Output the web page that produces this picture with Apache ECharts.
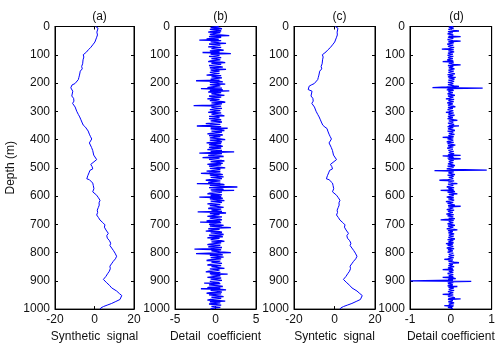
<!DOCTYPE html>
<html>
<head>
<meta charset="utf-8">
<script src="https://cdn.jsdelivr.net/npm/echarts@6/dist/echarts.min.js"></script>
<style>
  html, body { margin: 0; padding: 0; background: #fff; }
  #chart { width: 498px; height: 348px; }
</style>
</head>
<body>
<div id="chart"></div>
<script>
// depth samples (m) of the synthetic signal
const sigDepth = [
  0, 6, 12, 20, 30, 40, 47, 55, 65, 75, 82, 90, 100, 108, 112, 118, 123, 132, 141, 150,
  158, 164, 172, 180, 188, 195, 202, 207, 211, 217, 223, 229, 236, 246, 254, 264, 272, 279, 285, 291,
  300, 311, 320, 328, 338, 349, 356, 361, 370, 381, 390, 398, 405, 412, 419, 428, 439, 446, 455, 462,
  471, 478, 488, 496, 504, 509, 518, 528, 539, 542, 548, 554, 563, 574, 585, 597, 606, 615, 624, 632,
  641, 650, 658, 667, 676, 685, 694, 702, 710, 720, 726, 732, 740, 749, 758, 767, 775, 784, 793, 802,
  813, 822, 831, 840, 848, 857, 866, 875, 884, 895, 901, 907, 916, 925, 936, 945, 952, 959, 966, 973,
  980, 986, 991, 996, 1000
]
// (a) synthetic signal
const sigA = [
  0.6, 1.8, 2.1, 1.2, 1.5, 1.0, 1.1, 0.2, -0.9, -2.0, -3.1, -4.0, -5.7, -5.4, -6.3, -5.8, -5.2, -6.0, -6.5, -6.2,
  -7.2, -7.0, -7.6, -7.9, -8.2, -9.0, -9.9, -11.4, -12.4, -12.0, -12.9, -11.0, -11.8, -11.5, -10.6, -10.4, -11.1, -10.7, -9.8, -9.4,
  -9.0, -8.2, -7.5, -7.0, -6.4, -5.7, -4.6, -3.6, -3.2, -2.6, -2.0, -1.4, -1.9, -2.6, -2.3, -1.5, -0.9, -1.3, -0.4, -0.1,
  1.1, 0.3, -1.9, -1.2, -0.9, -2.3, -2.8, -3.4, -3.9, -2.6, -1.8, -0.9, -0.6, -0.3, -0.9, 1.1, 2.0, 2.8, 2.3, 2.4,
  1.9, 1.4, 1.6, 1.1, 2.0, 2.8, 4.2, 5.3, 5.0, 5.8, 6.6, 7.0, 6.2, 6.5, 7.6, 8.2, 7.8, 8.7, 9.6, 10.4,
  11.2, 10.6, 9.5, 8.6, 7.8, 8.0, 7.5, 6.6, 5.8, 4.5, 5.4, 6.2, 7.6, 8.7, 11.2, 12.6, 13.8, 13.6, 12.9, 10.8,
  8.7, 6.4, 4.5, 3.2, 2.8
]
// (c) reconstructed ("syntetic") signal
const sigC = [
  0.4, 1.7, 2.0, 1.3, 1.4, 0.9, 1.0, 0.1, -1.0, -2.1, -3.2, -4.2, -6.0, -5.6, -6.5, -5.9, -5.3, -6.1, -6.6, -6.3,
  -7.3, -7.0, -7.7, -8.0, -8.3, -9.1, -10.0, -11.5, -12.5, -12.0, -13.0, -11.1, -11.9, -11.6, -10.7, -10.5, -11.2, -10.8, -9.9, -9.5,
  -9.1, -8.3, -7.6, -7.1, -6.5, -5.8, -4.7, -3.7, -3.3, -2.7, -2.1, -1.5, -2.0, -2.7, -2.4, -1.6, -1.0, -1.4, -0.5, -0.2,
  1.0, 0.2, -2.0, -1.3, -1.0, -2.4, -2.9, -3.5, -4.0, -2.7, -1.9, -1.0, -0.7, -0.4, -1.0, 1.0, 1.9, 2.7, 2.2, 2.3,
  1.8, 1.3, 1.5, 1.0, 1.9, 2.7, 4.1, 5.2, 4.9, 5.7, 6.5, 6.9, 6.1, 6.4, 7.5, 8.1, 7.7, 8.6, 9.5, 10.3,
  11.1, 10.5, 9.4, 8.5, 7.7, 7.9, 7.4, 6.5, 5.7, 4.4, 5.3, 6.1, 7.5, 8.6, 11.1, 12.5, 13.7, 13.5, 12.8, 10.7,
  8.6, 6.3, 4.4, 3.1, 2.7
]

// detail coefficients, one sample every DEPTH_STEP metres (20 per row = 40 m)
const DEPTH_STEP = 2
const detB = [
  0.4, -0.3, -0.6, 0.5, 0.8, -0.7, -0.5, 0.4, 0.7, -0.6, -0.9, 0.6, 0.5, -0.4, -0.7, 0.6, 1.7, -0.5, -0.8, 0.7,
  0.6, -0.5, -1.1, 0.4, -2.0, 0.7, 0.9, -0.6, -0.6, 0.5, 1.3, -0.8, -0.7, 0.6, 0.5, -0.4, -0.9, 0.7, 0.8, -0.5,
  -0.5, 0.6, 1.0, -0.7, -0.8, 0.5, -1.6, 0.8, 1.9, -0.6, -0.7, 0.5, 0.6, -0.8, -1.0, 0.7, 0.8, -0.5, -0.4, 0.6,
  0.7, -0.6, -0.9, 0.8, 1.2, -0.5, -0.6, 0.7, 0.5, -0.8, -1.0, 0.6, 0.9, -0.7, -0.5, 0.4, 1.3, -0.6, -0.7, 0.5,
  0.6, -0.7, -0.8, 0.5, 0.5, -0.6, -1.1, 0.7, 0.8, -0.5, -0.6, 0.8, 1.0, -0.6, -0.7, 0.5, -2.4, 0.6, 0.9, -0.7,
  -0.6, 0.5, 1.2, -0.7, -0.8, 0.6, 0.7, -0.5, -1.0, 0.8, -1.8, 0.6, 0.9, -0.7, 1.7, -0.6, -0.9, 0.7, 0.6, -0.5,
  -0.7, 0.6, 1.1, -0.8, -0.5, 0.7, 0.8, -0.6, -1.0, 0.5, 0.6, -0.7, -0.8, 0.9, 1.2, -0.5, -0.6, 0.8, 0.7, -0.6,
  -2.7, 0.7, 0.9, -0.5, -0.6, 0.8, 1.0, -0.7, -0.8, 0.6, 0.5, -0.6, -0.9, 0.7, 0.8, -0.5, -0.6, 0.7, 1.1, -0.8,
  -0.7, 0.5, 0.6, -0.8, -1.0, 0.7, 0.9, -0.6, -0.5, 0.8, 0.7, -0.5, -1.2, 0.6, 0.8, -0.7, -2.3, 0.7, 0.6, -0.6,
  1.5, -0.6, -0.8, 0.7, 1.1, -0.5, -0.6, 0.8, 0.7, -0.6, -1.0, 0.5, 0.9, -0.8, -0.7, 0.6, 0.5, -0.7, -0.9, 0.6,
  1.2, -0.7, -0.6, 0.5, 0.8, -0.6, -1.1, 0.7, 0.7, -0.8, -0.5, 0.6, 0.9, -0.5, -0.8, 0.7, 0.6, -0.6, -1.0, 0.8,
  0.8, -0.6, 2.3, -0.7, -2.0, 0.8, 0.7, -0.5, -0.9, 0.6, 1.0, -0.7, -1.6, 0.5, 0.6, -0.8, -0.8, 0.7, 1.1, -0.6,
  -0.7, 0.5, 0.9, -0.6, -1.0, 0.7, 0.6, -0.8, -0.8, 0.5, 1.2, -0.7, -0.6, 0.6, 0.8, -0.5, -1.1, 0.6, 0.7, -0.8,
  -1.8, 0.6, 0.9, -0.7, -0.7, 0.5, 1.0, -0.6, -0.6, 0.8, 0.8, -0.7, -1.2, 0.6, 0.7, -0.5, -0.9, 0.6, -2.3, 0.8,
  1.1, -0.7, -0.8, 0.6, 2.7, -0.8, -0.9, 0.7, 1.0, -0.6, 2.3, -0.5, -0.7, 0.8, 0.6, -0.7, -1.0, 0.5, 0.8, -0.6,
  -0.6, 0.7, -2.0, 0.6, 0.9, -0.7, -0.8, 0.5, 1.1, -0.6, -0.6, 0.8, 0.7, -0.5, -1.0, 0.6, 0.8, -0.7, -0.5, 0.6,
  1.0, -0.6, -0.9, 0.7, 0.6, -0.5, -0.7, 0.8, -2.2, 0.6, 1.3, -0.7, -0.8, 0.5, 0.7, -0.6, -1.0, 0.8, 0.9, -0.7,
  -0.6, 0.5, 0.8, -0.7, -1.1, 0.6, -1.9, 0.7, 0.7, -0.5, -0.8, 0.6, 1.0, -0.7, -0.6, 0.8, 1.9, -0.6, -0.9, 0.5,
  0.6, -0.7, -1.2, 0.5, 0.8, -0.6, -0.7, 0.7, 1.0, -0.8, -0.5, 0.6, 0.9, -0.7, -1.0, 0.5, 0.7, -0.6, -0.8, 0.7,
  1.1, -0.5, -0.6, 0.7, 0.8, -0.7, -1.0, 0.6, 0.7, -0.5, -0.9, 0.8, 1.0, -0.6, -2.6, 0.7, 0.8, -0.5, -0.7, 0.6,
  1.9, -0.8, -2.4, 0.6, 0.9, -0.7, -0.6, 0.5, 1.0, -0.6, -0.8, 0.7, 0.7, -0.8, -1.1, 0.6, 0.6, -0.5, -0.7, 0.8,
  0.9, -0.6, -1.0, 0.7, 0.8, -0.5, -0.6, 0.6, 1.1, -0.7, -0.9, 0.5, 0.7, -0.8, -1.2, 0.6, 0.6, -0.7, 1.5, -0.6,
  -0.8, 0.6, 0.7, -0.5, -1.0, 0.7, 0.9, -0.6, -0.6, 0.8, 1.0, -0.7, -0.8, 0.5, -1.4, 0.6, 0.7, -0.8, -0.6, 0.5,
  0.9, -0.7, -1.0, 0.6, -1.8, 0.8, 1.3, -0.6, -0.7, 0.5, 0.8, -0.6, -1.1, 0.7, 0.6, -0.8, -0.9, 0.6, 1.0, -0.5,
  -0.6, 0.7, 0.8, -0.6, -1.0, 0.5, 1.2, -0.7, -0.7, 0.6, 0.6, -0.8, -1.0, 0.7, 0.9, -0.5, -0.5, 0.6, 0.7, -0.6,
  -0.4
]
const detD = [
  0.06, -0.05, -0.08, 0.07, 0.1, -0.06, -0.05, 0.08, 0.2, -0.07, -0.09, 0.05, 0.07, -0.08, -0.1, 0.06, 0.08, -0.05, 0.24, -0.07,
  -0.07, 0.06, 0.09, -0.08, -0.12, 0.05, 0.24, -0.06, -0.06, 0.07, 0.1, -0.09, -0.08, 0.06, 0.05, -0.07, -0.1, 0.08, 0.08, -0.05,
  -0.22, 0.07, 0.1, -0.06, -0.06, 0.08, 0.09, -0.07, -0.11, 0.05, 0.07, -0.08, -0.05, 0.06, 0.1, -0.07, -0.08, 0.05, 0.06, -0.09,
  -0.09, 0.06, -0.2, 0.07, 0.08, -0.05, -0.06, 0.08, 0.24, -0.07, -0.1, 0.06, 0.07, -0.05, -0.08, 0.09, 0.12, -0.06, -0.05, 0.07,
  0.09, -0.06, -0.07, 0.05, 0.1, -0.08, -0.12, 0.06, 0.06, -0.07, 0.12, -0.05, -0.08, 0.09, 0.07, -0.06, -0.1, 0.08, 0.05, -0.07,
  -0.09, 0.06, 0.1, -0.07, -0.06, 0.08, 0.2, -0.1, -0.45, 0.78, -0.08, 0.06, -0.1, 0.07, 0.08, -0.06, -0.07, 0.05, 0.09, -0.08,
  -0.06, 0.05, 0.1, -0.07, -0.08, 0.06, 0.07, -0.05, -0.12, 0.08, 0.09, -0.06, -0.05, 0.07, 0.08, -0.09, -0.1, 0.05, 0.06, -0.07,
  -0.08, 0.06, 0.11, -0.07, -0.06, 0.05, 0.09, -0.08, -0.1, 0.06, 0.07, -0.05, -0.12, 0.07, 0.08, -0.06, -0.05, 0.09, 0.1, -0.07,
  -0.07, 0.05, 0.06, -0.08, -0.09, 0.07, 0.16, -0.05, -0.08, 0.06, 0.1, -0.07, -0.06, 0.08, 0.07, -0.05, 0.2, -0.08, -0.1, 0.06,
  0.08, -0.07, -0.06, 0.05, 0.1, -0.08, -0.12, 0.06, 0.07, -0.05, -0.08, 0.09, 0.09, -0.06, -0.05, 0.07, -0.2, 0.06, 0.1, -0.08,
  -0.07, 0.06, 0.08, -0.05, -0.1, 0.07, 0.06, -0.08, -0.09, 0.05, 0.11, -0.07, -0.06, 0.06, 0.08, -0.09, -0.1, 0.05, 0.07, -0.06,
  -0.08, 0.07, 0.1, -0.05, -0.06, 0.08, 0.09, -0.07, 0.24, -0.2, 0.06, -0.05, 0.07, -0.08, 0.24, -0.06, -0.1, 0.07, 0.06, -0.05,
  -0.09, 0.06, 0.08, -0.07, -0.07, 0.05, 0.1, -0.08, -0.06, 0.07, 0.09, -0.05, -0.1, 0.06, 0.88, -0.4, -0.08, 0.07, 0.08, -0.06,
  -0.07, 0.05, 0.1, -0.08, -0.12, 0.07, 0.06, -0.05, -0.08, 0.06, 0.09, -0.07, -0.28, 0.08, 0.07, -0.06, -0.06, 0.05, 0.16, -0.07,
  -0.09, 0.06, 0.07, -0.05, -0.1, 0.08, 0.08, -0.06, -0.06, 0.07, -0.25, 0.05, 0.1, -0.08, -0.07, 0.06, 0.16, -0.05, -0.08, 0.07,
  0.06, -0.05, -0.1, 0.07, 0.09, -0.06, -0.07, 0.08, 0.08, -0.05, -0.12, 0.06, 0.07, -0.08, -0.06, 0.05, 0.1, -0.07, 0.24, -0.06,
  -0.08, 0.06, 0.07, -0.05, -0.1, 0.08, 0.09, -0.07, -0.06, 0.05, 0.08, -0.06, -0.11, 0.07, 0.07, -0.08, -0.09, 0.06, 0.06, -0.05,
  0.1, -0.06, -0.25, 0.07, 0.08, -0.05, -0.07, 0.06, 0.09, -0.08, -0.06, 0.05, 0.1, -0.07, -0.08, 0.06, 0.07, -0.05, -0.1, 0.08,
  0.16, -0.07, -0.08, 0.05, 0.07, -0.06, -0.1, 0.08, 0.06, -0.05, -0.09, 0.07, 0.08, -0.06, -0.06, 0.05, 0.1, -0.08, -0.07, 0.06,
  0.08, -0.06, -0.1, 0.07, -0.12, 0.05, 0.09, -0.08, -0.06, 0.06, 0.07, -0.05, -0.1, 0.08, 0.08, -0.07, -0.07, 0.05, 0.06, -0.08,
  -0.09, 0.06, 0.1, -0.05, -0.07, 0.08, 0.08, -0.06, -0.1, 0.07, 0.06, -0.08, -0.16, 0.05, 0.09, -0.06, -0.07, 0.08, 0.2, -0.05,
  -0.08, 0.05, 0.07, -0.06, -0.1, 0.08, 0.09, -0.07, -0.06, 0.05, -0.2, 0.07, 0.08, -0.05, -0.07, 0.06, 0.1, -0.08, -0.09, 0.06,
  0.07, -0.05, -0.08, 0.06, -0.2, 0.07, 0.12, -0.06, -0.1, 0.05, -0.99, 0.5, -0.08, 0.06, 0.09, -0.07, -0.07, 0.05, 0.06, -0.08,
  0.16, -0.06, -0.1, 0.07, 0.08, -0.05, -0.06, 0.08, 0.09, -0.07, -0.1, 0.06, 0.07, -0.05, -0.2, 0.06, 0.08, -0.07, -0.07, 0.05,
  0.1, -0.06, 0.24, -0.07, -0.08, 0.05, 0.07, -0.06, -0.1, 0.08, 0.09, -0.05, -0.06, 0.07, -0.16, 0.06, 0.08, -0.07, -0.07, 0.05,
  0.05
]

const panelTitles = ['(a)', '(b)', '(c)', '(d)']
const xNames = ['Synthetic  signal', 'Detail  coefficient', 'Syntetic  signal', 'Detail coefficient']
const xRanges = [[-20, 20, 20], [-5, 5, 5], [-20, 20, 20], [-1, 1, 1]]

const FONT = 'Liberation Sans, Arial, sans-serif'
const TXT = '#111'
const grids = [
  { left: 55, width: 79 },
  { left: 175, width: 81 },
  { left: 294, width: 81 },
  { left: 410, width: 83 },
]
const TOP = 26.5
const HEIGHT = 285
// signal panels drawn thin, the dense coefficient traces a bit heavier
const lineWidths = [1, 1.3, 1, 1.3]

const panelData = [
  sigDepth.map((d, i) => [sigA[i], d]),
  detB.map((v, i) => [v, i * DEPTH_STEP]),
  sigDepth.map((d, i) => [sigC[i], d]),
  detD.map((v, i) => [v, i * DEPTH_STEP]),
]

const option = {
  animation: false,
  backgroundColor: '#fff',
  title: panelTitles.map((t, i) => ({
    text: t,
    left: grids[i].left + grids[i].width / 2,
    top: 6,
    textAlign: 'center',
    textStyle: { fontFamily: FONT, fontSize: 12, fontWeight: 'normal', color: TXT },
  })),
  grid: grids.map(g => ({
    left: g.left, width: g.width, top: TOP, height: HEIGHT,
    show: true, borderColor: '#000', borderWidth: 1, backgroundColor: '#fff',
  })),
  xAxis: [],
  yAxis: [],
  series: [],
}

grids.forEach((g, i) => {
  const [min, max, interval] = xRanges[i]
  const tick = { show: true, inside: true, length: 3, lineStyle: { color: '#000' } }
  // bottom axis with labels
  option.xAxis.push({
    type: 'value', gridIndex: i, position: 'bottom', min, max, interval,
    axisLine: { show: true, onZero: false, lineStyle: { color: '#000' } },
    axisTick: tick,
    splitLine: { show: false },
    axisLabel: { fontFamily: FONT, fontSize: 12, color: TXT, margin: 5, formatter: v => String(v) },
    name: xNames[i], nameLocation: 'middle', nameGap: 20,
    nameTextStyle: { fontFamily: FONT, fontSize: 12, color: TXT },
  })
  // top axis: ticks only (box)
  option.xAxis.push({
    type: 'value', gridIndex: i, position: 'top', min, max, interval,
    axisLine: { show: true, onZero: false, lineStyle: { color: '#000' } },
    axisTick: tick, axisLabel: { show: false }, splitLine: { show: false },
  })
  option.yAxis.push({
    type: 'value', gridIndex: i, position: 'left', min: 0, max: 1000, interval: 100, inverse: true,
    axisLine: { show: true, onZero: false, lineStyle: { color: '#000' } },
    axisTick: tick,
    splitLine: { show: false },
    axisLabel: { fontFamily: FONT, fontSize: 12, color: TXT, margin: 5, formatter: v => String(v) },
    name: i === 0 ? 'Depth (m)' : '', nameLocation: 'middle', nameGap: 38, nameRotate: 90,
    nameTextStyle: { fontFamily: FONT, fontSize: 12, color: TXT },
  })
  option.yAxis.push({
    type: 'value', gridIndex: i, position: 'right', min: 0, max: 1000, interval: 100, inverse: true,
    axisLine: { show: true, onZero: false, lineStyle: { color: '#000' } },
    axisTick: tick, axisLabel: { show: false }, splitLine: { show: false },
  })
  option.series.push({
    type: 'line', xAxisIndex: i * 2, yAxisIndex: i * 2,
    data: panelData[i], showSymbol: false, symbol: 'none',
    lineStyle: { color: '#0000ff', width: lineWidths[i] },
    z: 1,
  })
})

const chart = echarts.init(document.getElementById('chart'), null, { renderer: 'canvas' })
chart.setOption(option)
</script>
</body>
</html>
